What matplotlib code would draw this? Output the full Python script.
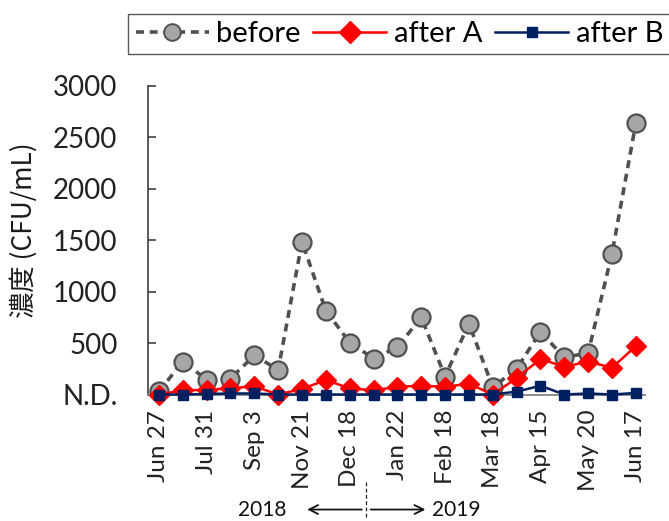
import matplotlib
matplotlib.use("Agg")
import matplotlib.pyplot as plt
from matplotlib.lines import Line2D
import numpy as np

# Sampling dates (every other one is labelled on the axis)
dates = ["Jun 27", "", "Jul 31", "", "Sep 3", "", "Nov 21", "", "Dec 18", "",
         "Jan 22", "", "Feb 18", "", "Mar 18", "", "Apr 15", "", "May 20", "",
         "Jun 17"]
before = [30, 320, 145, 155, 380, 240, 1485, 815, 505, 350, 460,
          750, 175, 690, 70, 250, 610, 360, 405, 1370, 2640]
after_a = [0, 40, 45, 60, 80, 0, 55, 140, 60, 40, 75,
           85, 75, 105, 0, 160, 345, 270, 320, 260, 470]
after_b = [0, 0, 5, 10, 10, 0, 0, 0, 0, 0, 0,
           0, 0, 0, 0, 28, 85, 0, 10, 0, 15]
y_ticks = [0, 500, 1000, 1500, 2000, 2500, 3000]
y_ticklabels = ["N.D.", "500", "1000", "1500", "2000", "2500", "3000"]

font = ["Lato", "DejaVu Sans"]
cjk = ["Noto Sans CJK JP", "DejaVu Sans"]

fig = plt.figure(figsize=(6.69, 5.21), dpi=100)
ax = fig.add_axes([0.2212, 0.2428, 0.7428, 0.5922])

x = np.arange(len(dates))

gray_edge = "#505050"
ax.plot(x, before, linestyle=(0, (2.2, 1.6)), color=gray_edge, linewidth=2.6,
        marker="o", markersize=13, markerfacecolor="#A6A6A6",
        markeredgecolor=gray_edge, markeredgewidth=1.6, clip_on=False,
        zorder=3, label="before")
ax.plot(x, after_a, color="#FF0000", linewidth=1.8, marker="D",
        markersize=10.5, markerfacecolor="#FF0000", markeredgecolor="#FF0000",
        clip_on=False, zorder=4, label="after A")
ax.plot(x, after_b, color="#002060", linewidth=1.8, marker="s",
        markersize=7.5, markerfacecolor="#002060", markeredgecolor="#002060",
        clip_on=False, zorder=5, label="after B")

ax.set_xlim(-0.46, 20.38)
ax.set_ylim(0, 3000)

ax.set_yticks(y_ticks)
ax.set_yticklabels(y_ticklabels, fontsize=20, family=font, color="#222222")
ax.tick_params(axis="y", direction="in", length=6, width=1.2,
               color="#404040", pad=22)

ax.set_xticks(x[::2])
ax.set_xticklabels([d for d in dates if d], rotation=90, fontsize=17.5,
                   family=font, color="#222222")
ax.tick_params(axis="x", length=0, pad=11)

for side in ("top", "right"):
    ax.spines[side].set_visible(False)
ax.spines["left"].set_color("#404040")
ax.spines["left"].set_linewidth(1.2)
ax.spines["bottom"].set_color("#8C8C8C")
ax.spines["bottom"].set_linewidth(1.4)

ax.set_ylabel("濃度 (CFU/mL)", fontsize=19, family=cjk, color="#1A1A1A")
ax.yaxis.set_label_coords(-0.222, 0.533)

# Legend across the top
handles = [
    Line2D([], [], linestyle=(0, (2.2, 1.6)), color=gray_edge, linewidth=2.6,
           marker="o", markersize=12, markerfacecolor="#A6A6A6",
           markeredgecolor=gray_edge, markeredgewidth=1.4),
    Line2D([], [], color="#FF0000", linewidth=1.8, marker="D",
           markersize=11, markerfacecolor="#FF0000",
           markeredgecolor="#FF0000"),
    Line2D([], [], color="#002060", linewidth=1.8, marker="s",
           markersize=7.5, markerfacecolor="#002060",
           markeredgecolor="#002060"),
]
leg = fig.legend(handles, ["before", "after A", "after B"], ncol=3,
                 loc="center", bbox_to_anchor=(0.597, 0.9345),
                 prop={"family": font, "size": 21}, frameon=True,
                 fancybox=False, edgecolor="#303030", handlelength=2.5,
                 handletextpad=0.25, columnspacing=0.45, borderpad=0.25,
                 borderaxespad=0)
leg.get_frame().set_linewidth(1.0)

# Year divider and arrows beneath the date labels
fig.text(0.392, 0.022, "2018", fontsize=15, family=font, ha="center",
         va="center", color="#111111")
fig.text(0.682, 0.022, "2019", fontsize=15, family=font, ha="center",
         va="center", color="#111111")
fig.add_artist(Line2D([0.547, 0.547], [0.008, 0.075], transform=fig.transFigure,
                      color="#222222", linewidth=0.9, linestyle=(0, (3, 2))))
ax.annotate("", xy=(0.455, 0.022), xytext=(0.545, 0.022),
            xycoords="figure fraction", textcoords="figure fraction",
            arrowprops=dict(arrowstyle="->", color="#111111", lw=1.3,
                            mutation_scale=16))
ax.annotate("", xy=(0.640, 0.022), xytext=(0.550, 0.022),
            xycoords="figure fraction", textcoords="figure fraction",
            arrowprops=dict(arrowstyle="->", color="#111111", lw=1.3,
                            mutation_scale=16))

fig.savefig("out.png", dpi=100, facecolor="white")
